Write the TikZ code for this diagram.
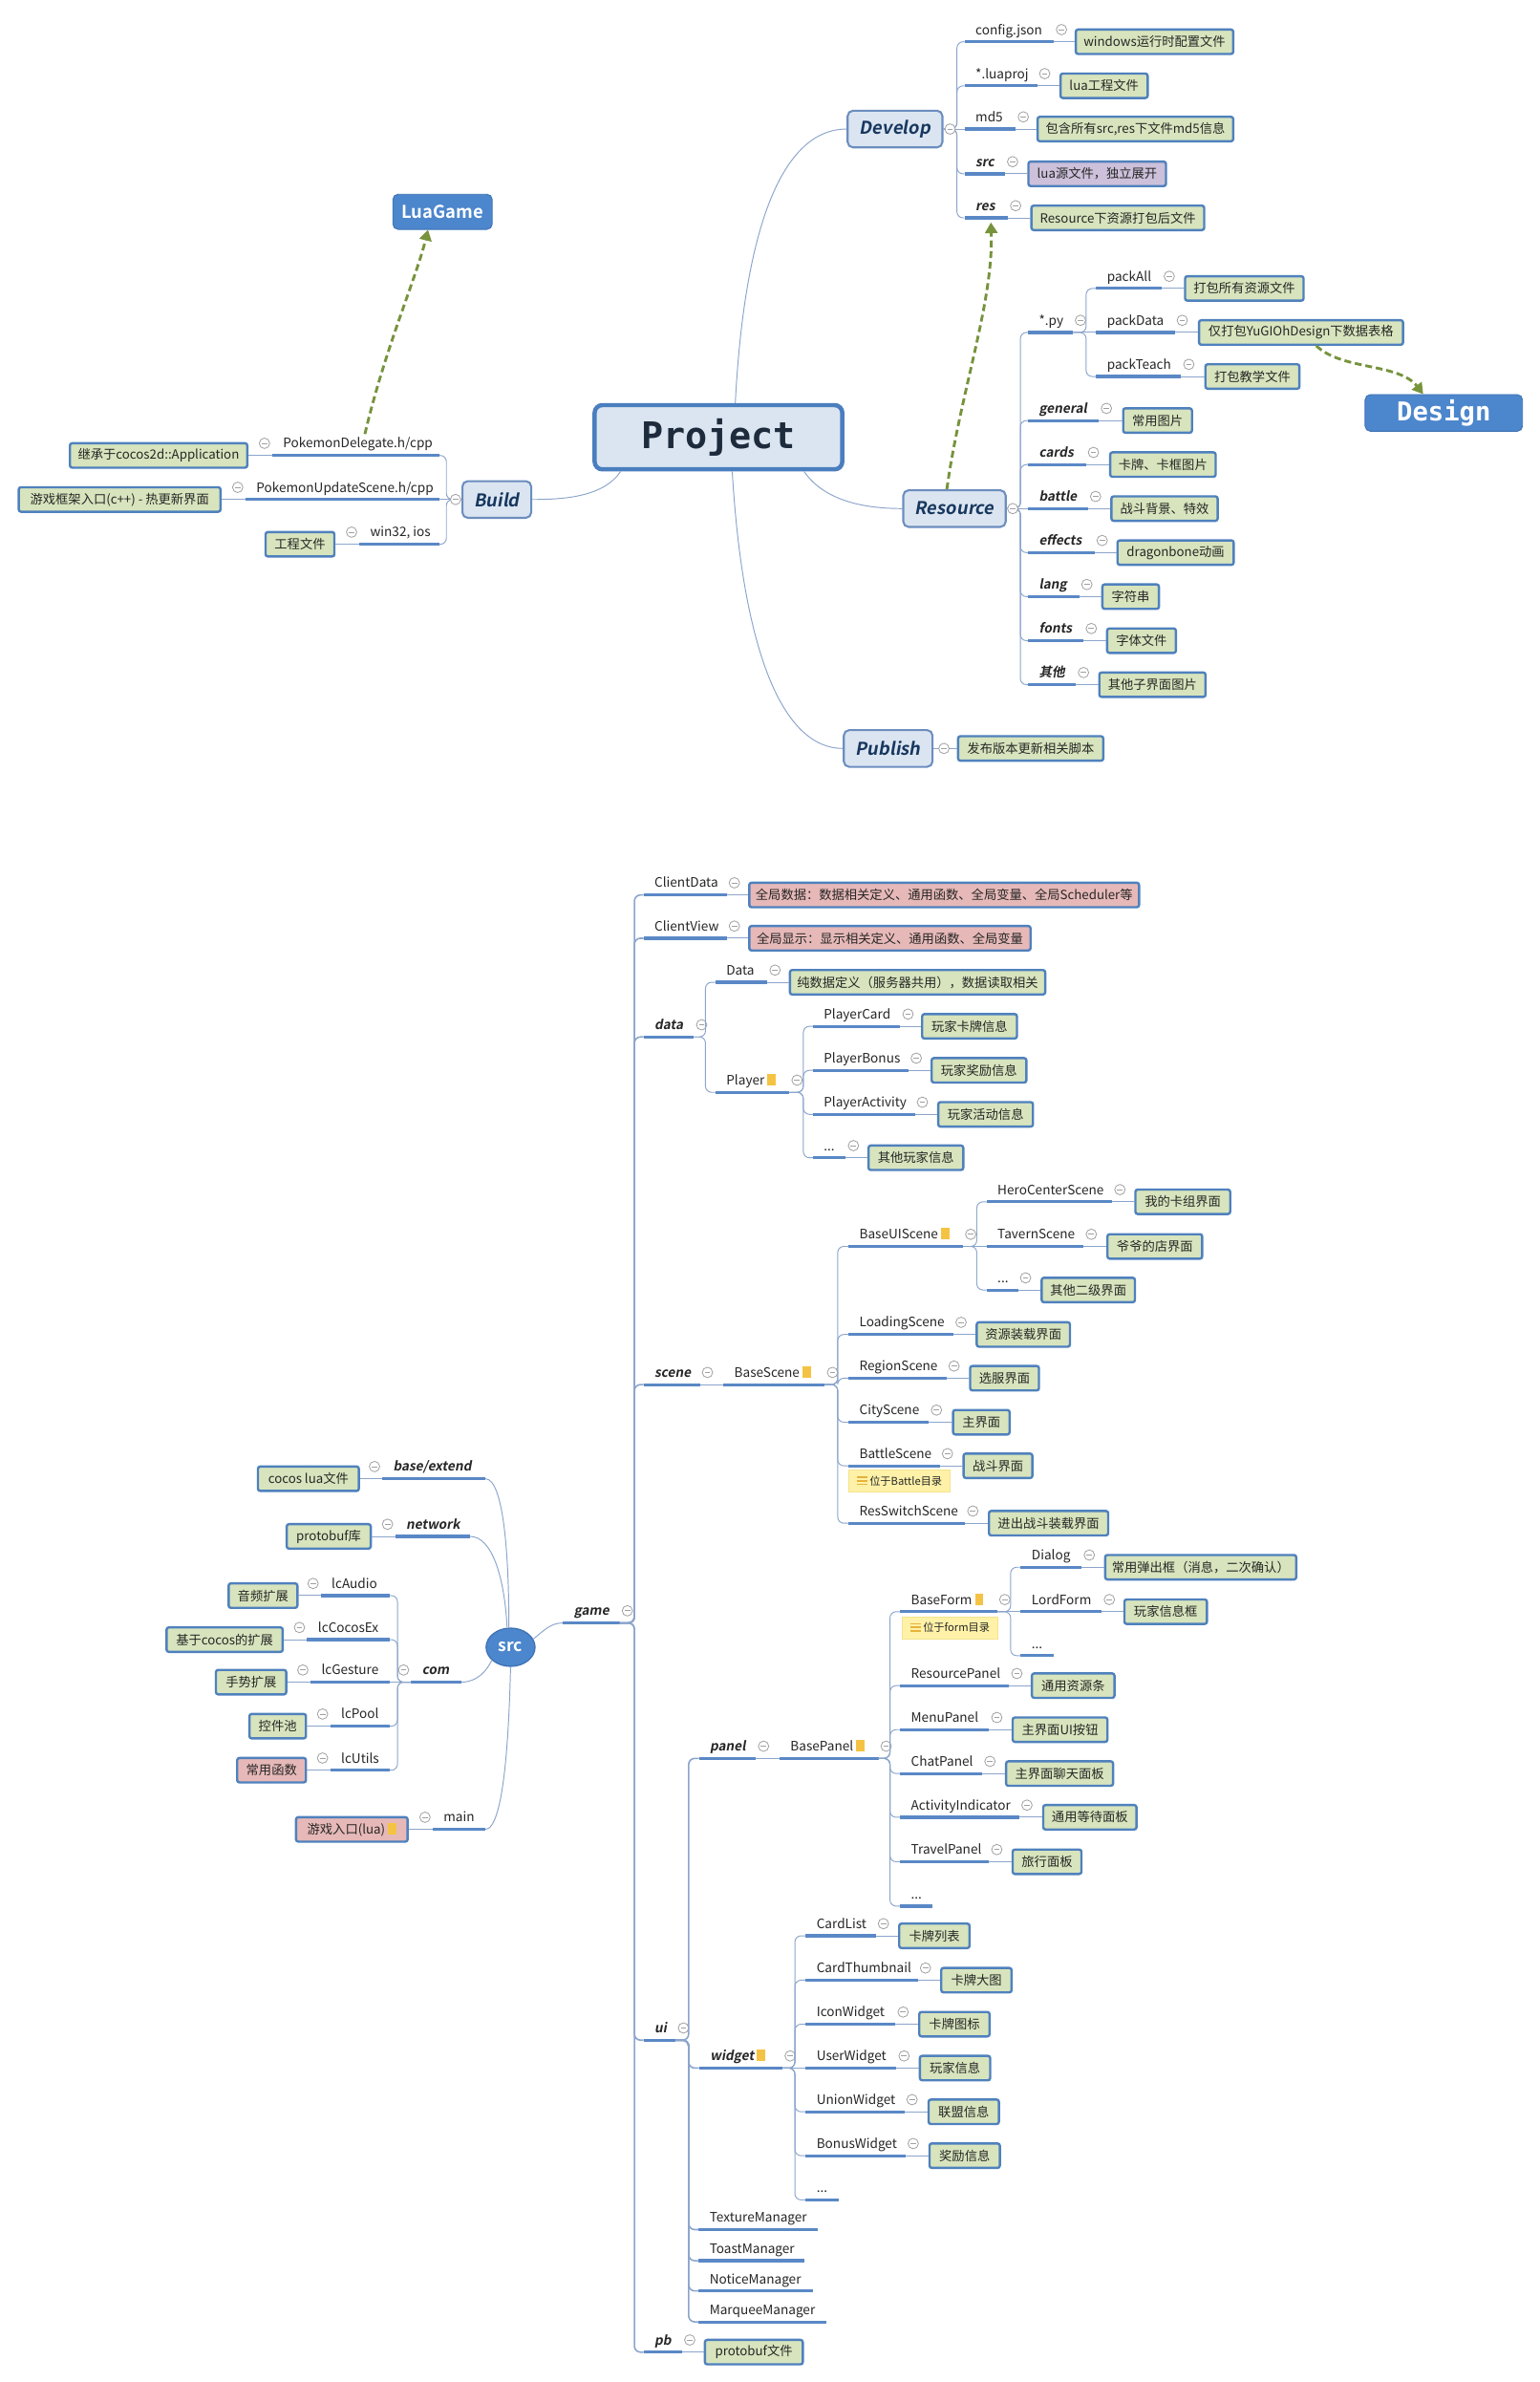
\documentclass[tikz,border=0pt]{standalone}
\usepackage{fontspec}
\setmainfont{Noto Sans CJK SC}
\newfontfamily\bifont{Noto Sans CJK SC Bold}[FakeSlant=0.18]
\newfontfamily\bdfont{Noto Sans CJK SC Bold}
\newfontfamily\pjfont{DejaVu Sans Mono Bold}
\usetikzlibrary{calc,arrows.meta,shapes.geometric}
\definecolor{txt}{HTML}{262626}
\definecolor{ul}{HTML}{5A88C6}
\definecolor{cn}{HTML}{8CA5CC}
\definecolor{cg}{HTML}{A0A0A0}
\definecolor{bb}{HTML}{4F81BD}
\definecolor{gfill}{HTML}{D7E4BD}
\definecolor{pfill}{HTML}{E6B9B8}
\definecolor{vfill}{HTML}{CCC0DA}
\definecolor{tfill}{HTML}{DBE5F1}
\definecolor{tdraw}{HTML}{6C8EBF}
\definecolor{ttext}{HTML}{17375E}
\definecolor{pjdraw}{HTML}{4A7EBF}
\definecolor{pjtext}{HTML}{1E2B3C}
\definecolor{blueA}{HTML}{4C86CC}
\definecolor{blueB}{HTML}{3F73B5}
\definecolor{olv}{HTML}{77933C}
\definecolor{ynote}{HTML}{FFF2A8}
\definecolor{ynoteB}{HTML}{F3E38C}
\definecolor{iconY}{HTML}{F5C343}
\definecolor{noteLn}{HTML}{E8B23C}
\newcommand\Lfn{\fontsize{8.5}{10}\selectfont}
\newcommand\Bfn{\bifont\fontsize{8.5}{10}\selectfont}
\newcommand\Xfn{\fontsize{8.3}{10}\selectfont}
\newcommand\dico{\textcolor{iconY}{\rule[-0.3pt]{5.5pt}{7.5pt}}}
\newcommand\noteico{\textcolor{noteLn}{\rlap{\rule{7pt}{0.9pt}}\rlap{\rule[2.4pt]{7pt}{0.9pt}}\rlap{\rule[4.8pt]{7pt}{0.9pt}}\hspace*{7pt}}}
\tikzset{
  lab/.style={anchor=south west,inner xsep=0pt,inner ysep=2pt,text height=7pt,text depth=2.6pt,text=txt},
  uline/.style={draw=ul,line width=2pt},
  conn/.style={draw=cn,line width=0.6pt},
  trunk/.style={draw=cn,line width=1pt},
  coll/.style={circle,draw=cg,line width=0.5pt,fill=white,minimum size=6.8pt,inner sep=0pt,
    path picture={\draw[cg,line width=0.5pt] ([xshift=-1.8pt]path picture bounding box.center) -- ([xshift=1.8pt]path picture bounding box.center);}},
  gbox/.style={rectangle,draw=bb,line width=1.5pt,fill=gfill,rounded corners=1.5pt,minimum height=16,inner xsep=3pt,inner ysep=1pt,font=\Xfn,text=txt},
  pbox/.style={gbox,fill=pfill},
  vbox/.style={gbox,fill=vfill},
  topic/.style={rectangle,rounded corners=3.5pt,draw=tdraw,line width=1.3pt,fill=tfill,minimum height=24,font=\bifont\fontsize{11.5}{13}\selectfont,text=ttext},
  proj/.style={rectangle,rounded corners=5pt,draw=pjdraw,line width=2.8pt,fill=tfill,minimum width=162,minimum height=42,font=\pjfont\fontsize{24}{26}\selectfont,text=pjtext},
  bluebox/.style={rectangle,rounded corners=3.5pt,fill=blueA,draw=blueB,line width=0.6pt,text=white,minimum height=23},
  srcnode/.style={ellipse,fill=blueA,draw=blueB,line width=0.8pt,minimum width=32,minimum height=25,inner sep=0pt,text=white,font=\bdfont\fontsize{11}{12}\selectfont},
  dsh/.style={draw=olv,line width=1.8pt,dash pattern=on 4.5pt off 2.5pt,-{Triangle[width=8pt,length=7pt]}},
  ynt/.style={rectangle,fill=ynote,draw=ynoteB,line width=0.4pt,minimum height=14.5,inner xsep=3pt,inner ysep=1pt,font=\fontsize{7}{8}\selectfont,text=txt}
}
\newcommand\brLbl[6]{%
  \pgfmathsetmacro\brw{#4-#2}%
  \node[lab,font=#5] (#1) at (#2,#3) {\makebox[\brw pt][l]{\hspace*{7pt}#6}};%
  \draw[uline] (#1.south west) -- (#1.south east);%
}
\newcommand\brRn[6]{\brLbl{#1}{#2}{#3}{#4}{#5}{#6}}
\newcommand\brRc[6]{\brLbl{#1}{#2}{#3}{#4}{#5}{#6}\node[coll] (#1c) at ($(#1.south east)+(5,-8)$) {};}
\newcommand\brLc[6]{\brLbl{#1}{#2}{#3}{#4}{#5}{#6}\node[coll] (#1c) at ($(#1.south west)+(-5,-8)$) {};}
\newcommand\brR[9]{\brRc{#1}{#2}{#3}{#4}{#5}{#6}\node[#7,anchor=west] (#1b) at (#8,#3) {#9};\draw[conn] (#1.south east) -- (#1b.west);}
\newcommand\brL[9]{\brLc{#1}{#2}{#3}{#4}{#5}{#6}\node[#7,anchor=east] (#1b) at (#8,#3) {#9};\draw[conn] (#1.south west) -- (#1b.east);}
\begin{document}
\begin{tikzpicture}[x=1pt,y=-0.993pt]
\useasboundingbox (0,1) rectangle (1007,1570);
\fill[white] (0,1) rectangle (1007,1570);
%================ TOP ================
\node[proj] (proj) at (470,289) {Project};
\node[bluebox,minimum width=65,font=\bdfont\fontsize{11.5}{13}\selectfont] (lua) at (289.5,140.5) {LuaGame};
\node[bluebox,minimum width=103,font=\pjfont\fontsize{17}{19}\selectfont] (design) at (944.5,273) {Design};
\node[topic,minimum width=62] (dev) at (585.5,86) {Develop};
\node[topic,minimum width=67] (rsc) at (624.4,336) {Resource};
\node[topic,minimum width=58] (pub) at (581,494) {Publish};
\node[topic,minimum width=45] (bld) at (325,330) {Build};
% project links
\draw[conn] ($(proj.north)+(11,0)$) .. controls (487,150) and (512,86) .. (dev.west);
\draw[conn] ($(proj.south)+(9,0)$) .. controls (486,430) and (512,494) .. (pub.west);
\draw[conn] ($(proj.south)+(56,0)$) .. controls (540,332) and (568,336) .. (rsc.west);
\draw[conn] ($(proj.south)+(-64,0)$) .. controls (395,328) and (370,330) .. (bld.east);
% Develop
\brR{cfg}{631}{28.5}{689}{\Lfn}{config.json}{gbox,minimum width=103}{703}{windows运行时配置文件}
\brR{lpj}{631}{57.5}{678}{\Lfn}{*.luaproj}{gbox,minimum width=57}{693}{lua工程文件}
\brR{md}{631}{86}{664}{\Lfn}{md5}{gbox,minimum width=128}{678}{包含所有src,res下文件md5信息}
\brR{srcd}{631}{115.5}{657}{\Bfn}{src}{vbox,minimum width=90}{672}{lua源文件，独立展开}
\brR{resd}{631}{144.5}{659}{\Bfn}{res}{gbox,minimum width=113}{674}{Resource下资源打包后文件}
\coordinate (devJ) at (626,86);
\foreach \nn in {cfg,lpj,srcd,resd} \draw[conn,rounded corners=4pt] (dev.east) -- (devJ) |- (\nn.south west);
\draw[conn] (dev.east) -- (md.south west);
\node[coll] (devc) at (621.5,86) {};
% Resource
\brRc{py}{672.5}{220}{701.4}{\Lfn}{*.py}
\brR{pka}{717}{191}{759.5}{\Lfn}{packAll}{gbox,minimum width=77.5}{774.5}{打包所有资源文件}
\brR{pkd}{717}{220}{768}{\Lfn}{packData}{gbox,minimum width=133.5}{783.6}{仅打包YuGIOhDesign下数据表格}
\brR{pkt}{717}{249}{772.3}{\Lfn}{packTeach}{gbox,minimum width=61.5}{787.8}{打包教学文件}
\coordinate (pyJ) at (710.5,220);
\foreach \nn in {pka,pkt} \draw[conn,rounded corners=4pt] (py.south east) -- (pyJ) |- (\nn.south west);
\draw[conn] (py.south east) -- (pkd.south west);
\brR{gen}{672.5}{278}{718.4}{\Bfn}{general}{gbox,minimum width=45}{734}{常用图片}
\brR{crd}{672.5}{307}{709.9}{\Bfn}{cards}{gbox,minimum width=69}{725.5}{卡牌、卡框图片}
\brR{btl}{672.5}{336}{711.3}{\Bfn}{battle}{gbox,minimum width=69.5}{726.3}{战斗背景、特效}
\brR{eff}{672.5}{365}{715.6}{\Bfn}{effects}{gbox,minimum width=76}{730.3}{dragonbone动画}
\brR{lng}{672.5}{394}{705.6}{\Bfn}{lang}{gbox,minimum width=37}{720.4}{字符串}
\brR{fnt}{672.5}{423}{708.5}{\Bfn}{fonts}{gbox,minimum width=45}{723.5}{字体文件}
\brR{oth}{672.5}{452}{703.4}{\Bfn}{其他}{gbox,minimum width=69.5}{718.4}{其他子界面图片}
\coordinate (rscJ) at (667.5,336);
\foreach \nn in {py,gen,crd,eff,lng,fnt,oth} \draw[conn,rounded corners=4pt] (rsc.east) -- (rscJ) |- (\nn.south west);
\draw[conn] (rsc.east) -- (btl.south west);
\node[coll] (rscc) at (662.5,336) {};
% Publish
\node[gbox,minimum width=95,anchor=west] (pubb) at (626,494) {发布版本更新相关脚本};
\draw[conn] (pub.east) -- (pubb.west);
\node[coll] (pubc) at (617.5,494) {};
% Build
\brL{pd}{178}{301}{287}{\Lfn}{PokemonDelegate.h/cpp}{gbox,minimum width=116}{162.5}{继承于cocos2d::Application}
\brL{pu}{160.5}{330}{287}{\Lfn}{PokemonUpdateScene.h/cpp}{gbox,minimum width=132}{145}{游戏框架入口(c++) - 热更新界面}
\brL{w32}{235}{359.5}{287}{\Lfn}{win32, ios}{gbox,minimum width=45}{219.5}{工程文件}
\coordinate (bldJ) at (292,330);
\foreach \nn in {pd,w32} \draw[conn,rounded corners=4pt] (bld.west) -- (bldJ) |- (\nn.south east);
\draw[conn] (bld.west) -- (pu.south east);
\node[coll] (bldc) at (298,330) {};
% dashed relations
\coordinate (luaT) at ($(lua.south)+(-9.5,0)$);
\draw[dsh] ($(pd.north)+(6,0)$) .. controls (252,230) and (272,185) .. (luaT);
\coordinate (resT) at ($(resd.south)+(3,3)$);
\draw[dsh] ($(rsc.north)+(-5,0)$) .. controls (628,260) and (650,200) .. (resT);
\coordinate (desT) at ($(design.north)+(-13.5,0)$);
\draw[dsh] ($(pkdb.south)+(10,0)$) .. controls (878,245) and (915,240) .. (desT);
%================ BOTTOM ================
\node[srcnode] (src) at (334,1086) {src};
\brL{bex}{250}{975}{317}{\Bfn}{base/extend}{gbox,minimum width=66}{235.5}{cocos lua文件}
\brL{net}{258.5}{1013}{307}{\Bfn}{network}{gbox,minimum width=55}{243.3}{protobuf库}
\brLc{com}{269}{1109}{301.3}{\Bfn}{com}
\brL{aud}{209.8}{1052}{254.5}{\Lfn}{lcAudio}{gbox,minimum width=45}{195.3}{音频扩展}
\brL{cex}{200.9}{1081}{254.5}{\Lfn}{lcCocosEx}{gbox,minimum width=76}{185.7}{基于cocos的扩展}
\brL{ges}{203.1}{1109}{254.5}{\Lfn}{lcGesture}{gbox,minimum width=46}{188}{手势扩展}
\brL{pol}{216}{1138}{254.5}{\Lfn}{lcPool}{gbox,minimum width=37}{200.9}{控件池}
\brL{utl}{216}{1167}{254.5}{\Lfn}{lcUtils}{pbox,minimum width=45}{200.9}{常用函数}
\brL{mn}{283}{1206}{317}{\Lfn}{main}{pbox,minimum width=73}{267.4}{游戏入口(lua)\ \dico}
\coordinate (comJ) at (260,1109);
\foreach \nn in {aud,cex,pol,utl} \draw[conn,rounded corners=4pt] (com.south west) -- (comJ) |- (\nn.south east);
\draw[conn] (com.south west) -- (ges.south east);
\draw[conn] (bex.south east) .. controls (330,975) and (333,1030) .. (src.95);
\draw[conn] (net.south east) .. controls (322,1013) and (330,1040) .. (src.100);
\draw[conn] (com.south east) .. controls (312,1109) and (318,1102) .. (src.215);
\draw[conn] (mn.south east) .. controls (330,1206) and (333,1140) .. (src.-90);
% game
\brRc{game}{368.3}{1070}{405}{\Bfn}{game}
\draw[conn] (src.20) .. controls (356,1075) and (360,1070) .. (game.south west);
\coordinate (gameJ) at (415,1070);
\brR{cd}{421}{590.5}{475}{\Lfn}{ClientData}{pbox,minimum width=255}{489.4}{全局数据：数据相关定义、通用函数、全局变量、全局Scheduler等}
\brR{cv}{421}{619}{475}{\Lfn}{ClientView}{pbox,minimum width=184}{489.4}{全局显示：显示相关定义、通用函数、全局变量}
\brRc{dat}{421}{684}{453.6}{\Bfn}{data}
\brR{dd}{468}{648}{501.6}{\Lfn}{Data}{gbox,minimum width=167}{516}{纯数据定义（服务器共用），数据读取相关}
\brRc{ply}{468}{720.5}{516}{\Lfn}{Player\ \dico}
\brR{pc}{531.7}{677}{588.6}{\Lfn}{PlayerCard}{gbox,minimum width=62}{602.5}{玩家卡牌信息}
\brR{pbn}{531.7}{706}{594}{\Lfn}{PlayerBonus}{gbox,minimum width=62}{608.7}{玩家奖励信息}
\brR{pac}{531.7}{735}{598}{\Lfn}{PlayerActivity}{gbox,minimum width=62}{613}{玩家活动信息}
\brR{pdo}{531.7}{763.6}{552.9}{\Lfn}{...}{gbox,minimum width=62}{567.4}{其他玩家信息}
\coordinate (datJ) at (461.5,684);
\coordinate (plyJ) at (525.5,720.5);
\foreach \nn in {dd,ply} \draw[conn,rounded corners=4pt] (dat.south east) -- (datJ) |- (\nn.south west);
\foreach \nn in {pc,pbn,pac,pdo} \draw[conn,rounded corners=4pt] (ply.south east) -- (plyJ) |- (\nn.south west);
% scene
\brRc{scn}{421}{913}{457.4}{\Bfn}{scene}
\brRc{bsc}{473.2}{913}{539.2}{\Lfn}{BaseScene\ \dico}
\draw[conn] (scn.south east) -- (bsc.south west);
\brRc{bui}{555}{822}{629.6}{\Lfn}{BaseUIScene\ \dico}
\brR{hcs}{645.4}{792.6}{727.2}{\Lfn}{HeroCenterScene}{gbox,minimum width=62}{742}{我的卡组界面}
\brR{tvs}{645.4}{822}{708.5}{\Lfn}{TavernScene}{gbox,minimum width=62}{723.7}{爷爷的店界面}
\brR{ods}{645.4}{850.7}{665.5}{\Lfn}{...}{gbox,minimum width=61}{680.7}{其他二级界面}
\brR{lds}{555}{880}{623.3}{\Lfn}{LoadingScene}{gbox,minimum width=61}{638.2}{资源装载界面}
\brR{rgs}{555}{908.8}{618.7}{\Lfn}{RegionScene}{gbox,minimum width=45}{633.9}{选服界面}
\brR{cts}{555}{937.8}{607.2}{\Lfn}{CityScene}{gbox,minimum width=37}{622.7}{主界面}
\brR{bts}{555}{966.5}{614.4}{\Lfn}{BattleScene}{gbox,minimum width=45}{629.6}{战斗界面}
\node[ynt,minimum width=66] (btn) at (588.3,976.6) {\noteico\ 位于Battle目录};
\brR{rss}{555}{1004.3}{631}{\Lfn}{ResSwitchScene}{gbox,minimum width=78}{646.2}{进出战斗装载界面}
\coordinate (bscJ) at (548,913);
\coordinate (buiJ) at (639,822);
\foreach \nn in {bui,lds,rgs,cts,bts,rss} \draw[conn,rounded corners=4pt] (bsc.south east) -- (bscJ) |- (\nn.south west);
\foreach \nn in {hcs,ods} \draw[conn,rounded corners=4pt] (bui.south east) -- (buiJ) |- (\nn.south west);
\draw[conn] (bui.south east) -- (tvs.south west);
% ui
\brRc{ui}{421}{1344.8}{441.7}{\Bfn}{ui}
\brRc{pnl}{457.2}{1159.2}{494.1}{\Bfn}{panel}
\brRc{bpn}{509.9}{1159.2}{574.3}{\Lfn}{BasePanel\ \dico}
\draw[conn] (pnl.south east) -- (bpn.south west);
\brRc{bfm}{588.8}{1062.6}{651.9}{\Lfn}{BaseForm\ \dico}
\node[ynt,minimum width=63] (fmn) at (621.4,1073.1) {\noteico\ 位于form目录};
\brR{dlg}{667.7}{1033.3}{707.2}{\Lfn}{Dialog}{gbox,minimum width=125}{722.2}{常用弹出框（消息，二次确认）}
\brR{lfm}{667.7}{1062.6}{720.3}{\Lfn}{LordForm}{gbox,minimum width=54}{734.8}{玩家信息框}
\brRn{fdo}{667.7}{1091.6}{688.8}{\Lfn}{...}
\brR{rsp}{588.8}{1111.3}{659.8}{\Lfn}{ResourcePanel}{gbox,minimum width=54}{674.3}{通用资源条}
\brR{mnp}{588.8}{1140.3}{646.7}{\Lfn}{MenuPanel}{gbox,minimum width=62}{661.7}{主界面UI按钮}
\brR{chp}{588.8}{1169.2}{642.2}{\Lfn}{ChatPanel}{gbox,minimum width=70}{657.4}{主界面聊天面板}
\brR{aci}{588.8}{1198}{666.4}{\Lfn}{ActivityIndicator}{gbox,minimum width=61}{681.7}{通用等待面板}
\brR{trp}{588.8}{1227.3}{646.7}{\Lfn}{TravelPanel}{gbox,minimum width=45}{661.7}{旅行面板}
\brRn{pdt}{588.8}{1256.5}{609.4}{\Lfn}{...}
\coordinate (bpnJ) at (582.2,1159.2);
\coordinate (bfmJ) at (661.1,1062.6);
\foreach \nn in {bfm,rsp,mnp,chp,aci,trp,pdt} \draw[conn,rounded corners=4pt] (bpn.south east) -- (bpnJ) |- (\nn.south west);
\foreach \nn in {dlg,fdo} \draw[conn,rounded corners=4pt] (bfm.south east) -- (bfmJ) |- (\nn.south west);
\draw[conn] (bfm.south east) -- (lfm.south west);
% widget
\brRc{wdg}{457.3}{1363.2}{511.5}{\Bfn}{widget\ \dico}
\brR{cdl}{527}{1276.1}{572.5}{\Lfn}{CardList}{gbox,minimum width=46}{587.5}{卡牌列表}
\brR{cth}{527}{1305.3}{600}{\Lfn}{CardThumbnail}{gbox,minimum width=46}{615}{卡牌大图}
\brR{icw}{527}{1334.3}{585.4}{\Lfn}{IconWidget}{gbox,minimum width=46}{600.6}{卡牌图标}
\brR{usw}{527}{1363.2}{586}{\Lfn}{UserWidget}{gbox,minimum width=46}{601}{玩家信息}
\brR{unw}{527}{1392}{591.25}{\Lfn}{UnionWidget}{gbox,minimum width=46}{606.7}{联盟信息}
\brR{bnw}{527}{1420.9}{592}{\Lfn}{BonusWidget}{gbox,minimum width=46}{607.3}{奖励信息}
\brRn{wdo}{527}{1450}{548}{\Lfn}{...}
\coordinate (wdgJ) at (520,1363.2);
\foreach \nn in {cdl,cth,icw,unw,bnw,wdo} \draw[conn,rounded corners=4pt] (wdg.south east) -- (wdgJ) |- (\nn.south west);
\draw[conn] (wdg.south east) -- (usw.south west);
\brRn{txm}{457}{1469.6}{534.4}{\Lfn}{TextureManager}
\brRn{tsm}{457}{1490.1}{526}{\Lfn}{ToastManager}
\brRn{ntm}{457}{1510}{531.2}{\Lfn}{NoticeManager}
\brRn{mqm}{457}{1530.4}{540}{\Lfn}{MarqueeManager}
\coordinate (uiJ) at (450.5,1344.8);
\foreach \nn in {pnl,wdg,txm,tsm,ntm,mqm} \draw[trunk,rounded corners=4pt] (ui.south east) -- (uiJ) |- (\nn.south west);
\brR{pb}{421}{1550.3}{445.8}{\Bfn}{pb}{gbox,minimum width=64}{460.4}{protobuf文件}
\foreach \nn in {cd,cv,dat,scn,ui,pb} \draw[trunk,rounded corners=4pt] (game.south east) -- (gameJ) |- (\nn.south west);
\end{tikzpicture}
\end{document}
